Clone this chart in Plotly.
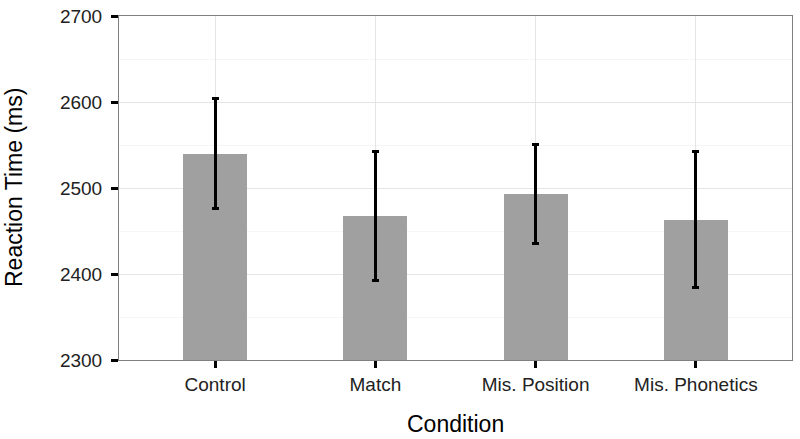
import plotly.graph_objects as go

conditions = ["Control", "Match", "Mis. Position", "Mis. Phonetics"]
mean_rt = [2540, 2468, 2493, 2463]
ci_upper = [2604, 2543, 2551, 2542]
ci_lower = [2476, 2392, 2435, 2384]

err_plus = [u - m for u, m in zip(ci_upper, mean_rt)]
err_minus = [m - l for m, l in zip(mean_rt, ci_lower)]

font_family = "Liberation Sans, Arial, sans-serif"

W, H = 800, 439
ML, MR, MT, MB = 119, 8, 16, 79

fig = go.Figure()
fig.add_trace(go.Bar(
    x=conditions,
    y=mean_rt,
    width=0.4,
    marker=dict(color="#A0A0A0", line=dict(width=0)),
    error_y=dict(
        type="data",
        symmetric=False,
        array=err_plus,
        arrayminus=err_minus,
        color="black",
        thickness=3,
        width=3.5,
    ),
))

plot_h = H - MT - MB
plot_w = W - ML - MR

fig.update_layout(
    width=W,
    height=H,
    autosize=False,
    margin=dict(l=ML, r=MR, t=MT, b=MB, autoexpand=False),
    paper_bgcolor="white",
    plot_bgcolor="white",
    font=dict(family=font_family, color="#222222"),
    showlegend=False,
    bargap=0,
    annotations=[
        dict(text="Condition", x=0.5, xref="paper",
             y=(H - MB - 424) / plot_h, yref="paper", yanchor="middle",
             showarrow=False, font=dict(size=23, color="black")),
        dict(text="Reaction Time (ms)", textangle=-90,
             x=(14 - ML) / plot_w, xanchor="center", y=0.5,
             xref="paper", yref="paper", showarrow=False,
             font=dict(size=23, color="black")),
    ],
)

fig.update_xaxes(
    type="category",
    range=[-0.6, 3.6],
    automargin=False,
    showgrid=True,
    gridcolor="#E5E5E5",
    gridwidth=1,
    showline=True,
    linecolor="#7F7F7F",
    linewidth=1,
    mirror=True,
    ticks="outside",
    ticklen=7,
    tickwidth=2.5,
    tickcolor="black",
    tickfont=dict(size=19, color="#222222"),
    zeroline=False,
)

fig.update_yaxes(
    range=[2300, 2700],
    automargin=False,
    tickmode="array",
    tickvals=[2300, 2400, 2500, 2600, 2700],
    ticktext=["2300", "2400", "2500", "2600", "2700"],
    showgrid=True,
    gridcolor="#E5E5E5",
    gridwidth=1,
    minor=dict(tickmode="array", tickvals=[2350, 2450, 2550, 2650], showgrid=True, gridcolor="#F5F5F5", ticks=""),
    showline=True,
    linecolor="#7F7F7F",
    linewidth=1,
    mirror=True,
    ticks="outside",
    ticklen=7,
    tickwidth=2.5,
    tickcolor="black",
    ticklabelstandoff=5,
    tickfont=dict(size=19, color="#222222"),
    zeroline=False,
)

fig.write_html(
    "out.html",
    config={"responsive": False, "displayModeBar": False},
    post_script="document.body.style.margin='0px';document.body.style.overflow='hidden';",
)
